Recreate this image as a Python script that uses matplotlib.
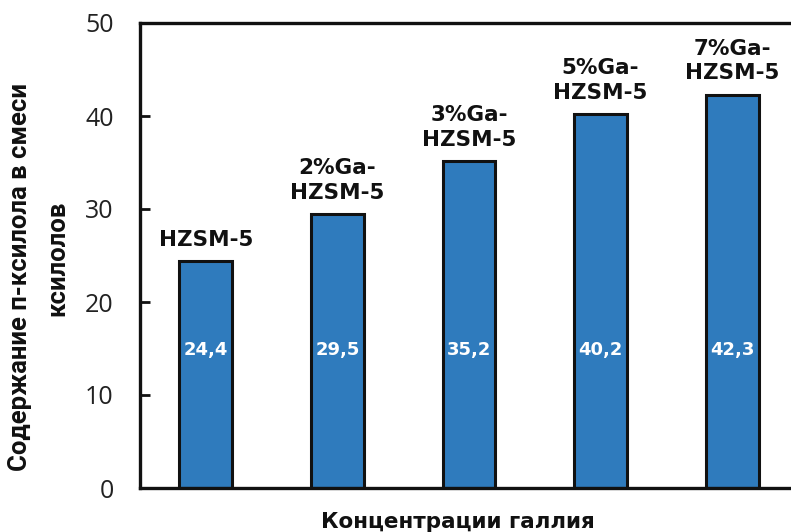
import matplotlib
matplotlib.use("Agg")
import matplotlib.pyplot as plt

# данные
catalysts = ["HZSM-5", "2%Ga-\nHZSM-5", "3%Ga-\nHZSM-5", "5%Ga-\nHZSM-5", "7%Ga-\nHZSM-5"]
p_xylene = [24.4, 29.5, 35.2, 40.2, 42.3]
value_labels = ["24,4", "29,5", "35,2", "40,2", "42,3"]
y_ticks = [0, 10, 20, 30, 40, 50]

W, H = 791, 532
fig = plt.figure(figsize=(W / 100, H / 100), dpi=100)
ax = fig.add_axes([140 / W, (H - 488) / H, (798 - 140) / W, (488 - 23) / H])

x = list(range(len(p_xylene)))
bars = ax.bar(x, p_xylene, width=0.4, color="#2F7BBD", edgecolor="#111111", linewidth=2.2)

ax.set_xlim(-0.5, len(p_xylene) - 0.5)
ax.set_ylim(0, 50)
ax.set_yticks(y_ticks)
ax.set_yticklabels([str(t) for t in y_ticks], fontsize=18, family="Open Sans", color="#222222")
ax.set_xticks([])
ax.tick_params(axis="y", direction="in", length=7, width=2, pad=19, colors="#111111",
               labelcolor="#222222")

for s in ["left", "bottom", "top"]:
    ax.spines[s].set_linewidth(2.4)
    ax.spines[s].set_color("#111111")
ax.spines["right"].set_visible(False)

# подписи катализаторов над столбцами
for xi, v, name in zip(x, p_xylene, catalysts):
    ax.annotate(name, (xi, v), xytext=(0, 8), textcoords="offset points",
                ha="center", va="bottom", fontsize=15.5, fontweight="bold",
                family="DejaVu Sans", color="#111111", linespacing=1.3)
    ax.text(xi, 14.8, value_labels[xi], ha="center", va="center", fontsize=13,
            fontweight="bold", color="white", family="DejaVu Sans")

# подпись оси Y в две строки, как в исходнике
fig.text(20 / W, 1 - 277 / H, "Содержание п-ксилола в смеси", rotation=90,
         ha="center", va="center", fontsize=18.5, fontweight="bold",
         family="Roboto", color="#111111")
fig.text(57 / W, 1 - 258 / H, "ксилолов", rotation=90,
         ha="center", va="center", fontsize=18.5, fontweight="bold",
         family="Roboto", color="#111111")
fig.text(458 / W, 1 - 522 / H, "Концентрации галлия", ha="center", va="center",
         fontsize=15.5, fontweight="bold", family="DejaVu Sans", color="#111111")

fig.savefig("out.png", dpi=100)
plt.close(fig)
